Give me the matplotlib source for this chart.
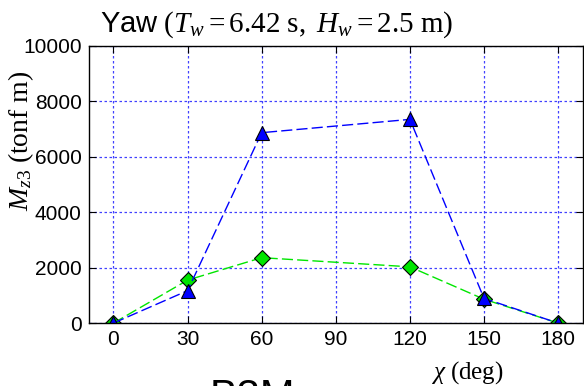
import numpy as np
import matplotlib
matplotlib.use('Agg')
import matplotlib.pyplot as plt

# mathtext in Times-like serif, plain text in Arial-like sans
plt.rcParams['font.family'] = 'Liberation Sans'
plt.rcParams['mathtext.fontset'] = 'custom'
plt.rcParams['mathtext.rm'] = 'Liberation Serif'
plt.rcParams['mathtext.it'] = 'Liberation Serif:italic'
plt.rcParams['mathtext.sf'] = 'Liberation Sans'

# heading angle (deg) and yaw moment (tonf m)
chi = [0, 30, 60, 120, 150, 180]
mz3_blue = [0, 1170, 6870, 7350, 890, 0]
mz3_green = [0, 1550, 2360, 2030, 860, 0]

fig = plt.figure(figsize=(5.84, 3.86), dpi=100)
ax = fig.add_axes([0.152, 0.163, 0.846, 0.718])

ax.plot(chi, mz3_green, '--', color=(0, 0.9, 0), lw=1.0, dashes=(8, 3),
        marker='D', ms=8.5, mfc=(0, 0.9, 0), mec='k', mew=0.8)
ax.plot(chi, mz3_blue, '--', color=(0, 0, 1), lw=1.0, dashes=(8, 3),
        marker='^', ms=9.5, mfc=(0, 0, 1), mec='k', mew=0.8)

ax.set_xlim(-10, 190)
ax.set_ylim(0, 10000)
ax.set_xticks(np.arange(0, 181, 30))
ax.set_yticks(np.arange(0, 10001, 2000))
ax.grid(True, color=(0.25, 0.25, 1), ls=(0, (2, 2)), lw=0.9)
ax.set_axisbelow(True)
ax.tick_params(direction='in', top=True, right=True, length=5,
               labelsize=15, pad=5)
for s in ax.spines.values():
    s.set_linewidth(1.0)

fig.text(0.171, 0.917, r'$\mathsf{Yaw}\ (T_w = 6.42\ \mathrm{s},\ H_w = 2.5\ \mathrm{m})$',
         fontsize=21, ha='left', va='baseline')
ax.set_ylabel(r'$M_{z3}\ (\mathrm{tonf\ m})$', fontsize=20)
ax.yaxis.set_label_coords(-0.107, 0.657)
fig.text(0.801, 0.036, r'$\chi\ (\mathrm{deg})$', fontsize=18, ha='center', va='center')
fig.text(0.432, -0.06, 'B3M', fontsize=30, ha='center', va='baseline')

fig.savefig('out.png', dpi=100)
